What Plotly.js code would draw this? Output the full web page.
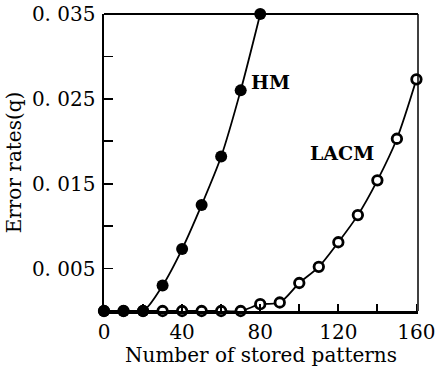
<!DOCTYPE html>
<html>
<head>
<meta charset="utf-8">
<script src="https://cdn.plot.ly/plotly-3.0.1.min.js"></script>
<style>
html,body{margin:0;padding:0;background:#fff;}
#chart{width:436px;height:367px;}
</style>
</head>
<body>
<div id="chart"></div>
<script>
// Data
const hmX = [0, 10, 20, 30, 40, 50, 60, 70, 80];
const hmY = [0, 0, 0, 0.003, 0.0073, 0.0125, 0.0182, 0.026, 0.035];
const lacmX = [0, 10, 20, 30, 40, 50, 60, 70, 80, 90, 100, 110, 120, 130, 140, 150, 160];
const lacmY = [0, 0, 0, 0, 0, 0, 0, 0, 0.0008, 0.001, 0.0033, 0.0052, 0.0081, 0.0113, 0.0154, 0.0203, 0.0273];

const xTickVals = [0, 20, 40, 60, 80, 100, 120, 140, 160];
const xTickText = ['0', '', '40', '', '80', '', '120', '', '160'];
const yTickVals = [0, 0.005, 0.01, 0.015, 0.02, 0.025, 0.03, 0.035];
const yTickText = ['', '0. 005', '', '0. 015', '', '0. 025', '', '0. 035'];

const labelNames = ['HM', 'LACM'];
const labelX = [74, 104.5];
const labelY = [0.027, 0.0186];

const serif = 'DejaVu Serif, Liberation Serif, serif';

const traces = [
  {
    x: lacmX, y: lacmY, mode: 'lines+markers', type: 'scatter', name: 'LACM',
    line: {color: '#000', width: 1.8, shape: 'spline', smoothing: 0.8},
    marker: {symbol: 'circle', size: 9.5, color: '#fff', line: {color: '#000', width: 2.8}},
    cliponaxis: false, showlegend: false
  },
  {
    x: hmX, y: hmY, mode: 'lines+markers', type: 'scatter', name: 'HM',
    line: {color: '#000', width: 1.8, shape: 'spline', smoothing: 0.8},
    marker: {symbol: 'circle', size: 12, color: '#000', line: {color: '#000', width: 0}},
    cliponaxis: false, showlegend: false
  }
];

const layout = {
  width: 436, height: 367,
  margin: {l: 104, r: 18, t: 14, b: 56},
  paper_bgcolor: '#fff', plot_bgcolor: '#fff',
  font: {family: serif, color: '#000', size: 20},
  showlegend: false,
  xaxis: {
    range: [0, 160.8], showgrid: false, zeroline: false,
    showline: true, linecolor: '#000', linewidth: 2.5,
    ticks: 'inside', ticklen: 7, tickwidth: 1.8, tickcolor: '#000',
    tickmode: 'array', tickvals: xTickVals, ticktext: xTickText,
    tickfont: {family: serif, size: 20, color: '#000'},
    ticklabelstandoff: 1, ticklabeloverflow: 'allow',
    title: {text: 'Number of stored patterns', font: {family: serif, size: 20, color: '#000'}, standoff: 3},
    automargin: false
  },
  yaxis: {
    range: [0, 0.035], showgrid: false, zeroline: false,
    showline: true, linecolor: '#000', linewidth: 2.5,
    ticks: 'inside', ticklen: 9, tickwidth: 1.8, tickcolor: '#000',
    tickmode: 'array', tickvals: yTickVals, ticktext: yTickText,
    tickfont: {family: serif, size: 20, color: '#000'},
    ticklabelstandoff: 2, ticklabeloverflow: 'allow',
    title: {text: 'Error rates(q)', font: {family: serif, size: 20, color: '#000'}, standoff: 5},
    automargin: false
  },
  shapes: [
    {type: 'line', xref: 'paper', yref: 'paper', x0: 0, x1: 1, y0: 1, y1: 1, line: {color: '#000', width: 2}},
    {type: 'line', xref: 'paper', yref: 'paper', x0: 1, x1: 1, y0: 0, y1: 1, line: {color: '#000', width: 1.5}}
  ],
  annotations: labelNames.map((t, i) => ({
    x: labelX[i], y: labelY[i], xref: 'x', yref: 'y', text: t, showarrow: false,
    xanchor: 'left', yanchor: 'middle',
    font: {family: serif, size: 19, color: '#000', weight: 'bold'}
  }))
};

Plotly.newPlot('chart', traces, layout, {displayModeBar: false, staticPlot: true});
</script>
</body>
</html>
